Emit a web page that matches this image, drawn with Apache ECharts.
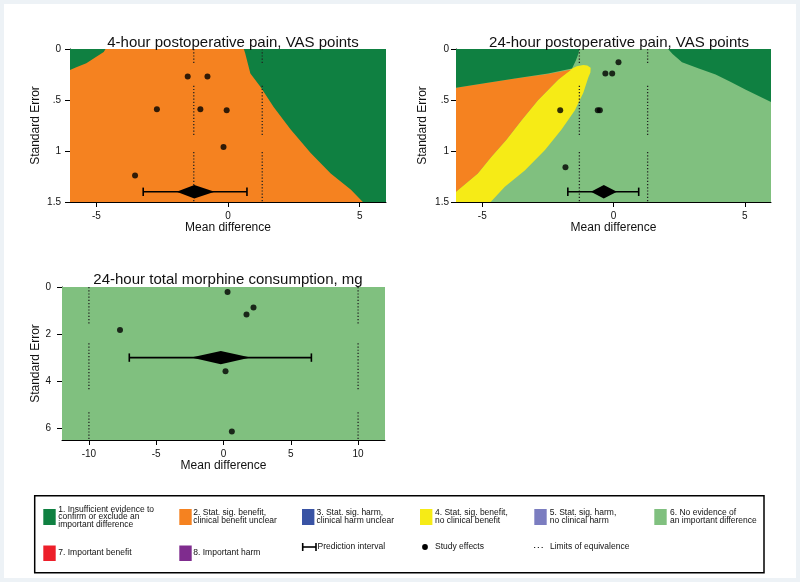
<!DOCTYPE html>
<html>
<head>
<meta charset="utf-8">
<script src="https://cdn.jsdelivr.net/npm/echarts@6/dist/echarts.min.js"></script>
<style>
html,body{margin:0;padding:0;background:#fff;}
#chart{width:800px;height:582px;}
</style>
</head>
<body>
<div id="chart"></div>
<script>
// ---------- data ----------
const painXTicks = [-5, 0, 5];
const painYTicks = [0, 0.5, 1, 1.5];
const painYTickLabels = ['0', '.5', '1', '1.5'];
const morphXTicks = [-10, -5, 0, 5, 10];
const morphYTicks = [0, 2, 4, 6];
const morphYTickLabels = ['0', '2', '4', '6'];

const painXRange = [-6, 6];
const painYRange = [0, 1.5];
const morphXRange = [-12, 12];
const morphYRange = [0, 6.5];

const titles = ['4-hour postoperative pain, VAS points', '24-hour postoperative pain, VAS points', '24-hour total morphine consumption, mg'];

// study effects [mean difference, standard error]
const pain4Studies = [[-1.53, 0.27], [-0.78, 0.27], [-2.70, 0.59], [-1.05, 0.59], [-0.05, 0.60], [-0.17, 0.96], [-3.53, 1.24]];
const pain24Studies = [[0.19, 0.13], [-0.31, 0.24], [-0.05, 0.24], [-2.03, 0.60], [-0.60, 0.60], [-0.52, 0.60], [-1.83, 1.16]];
const morphStudies = [[0.30, 0.21], [2.23, 0.87], [1.71, 1.17], [-7.69, 1.83], [0.15, 3.58], [0.62, 6.14]];

// pooled estimate: [estimate, y position, CI low, CI high, prediction low, prediction high]
const pain4Pooled = [-1.28, 1.40, -1.95, -0.51, -3.22, 0.72];
const pain24Pooled = [-0.37, 1.40, -0.86, 0.13, -1.74, 0.96];
const morphPooled = [-0.20, 3.00, -2.40, 2.00, -7.00, 6.53];

// limits of equivalence and the visible spans of the dotted lines
const painEquivalence = [-1.3, 1.3];
const morphEquivalence = [-10, 10];
const painDotSpans = [[0, 0.14], [0.36, 0.845], [1.01, 1.5]];
const morphDotSpans = [[0, 1.61], [2.39, 4.39], [5.32, 6.5]];

// region boundaries [mean difference, standard error]
const pain4Full = [[-6, 0], [6, 0], [6, 1.5], [-6, 1.5]];
const pain4InsuffLeft = [[-6, 0], [-4.65, 0], [-4.72, 0.03], [-5.0, 0.075], [-5.38, 0.14], [-5.76, 0.18], [-6, 0.205]];
const pain4InsuffRight = [[0.6, 0], [6, 0], [6, 1.5], [5.12, 1.5], [4.67, 1.38], [3.9, 1.22], [3.14, 1.02], [2.38, 0.79], [1.74, 0.57], [1.23, 0.37], [0.85, 0.24], [0.72, 0.11], [0.65, 0.04]];

const pain24Full = [[-6, 0], [6, 0], [6, 1.5], [-6, 1.5]];
const pain24Yellow = [[-1.62, 0.195], [-1.4, 0.17], [-1.15, 0.158], [-1.0, 0.162], [-0.87, 0.185], [-0.88, 0.23], [-0.96, 0.28], [-1.15, 0.43], [-1.47, 0.60], [-1.98, 0.79], [-2.61, 0.99], [-3.38, 1.19], [-4.14, 1.35], [-4.68, 1.5], [-6, 1.5], [-6, 1.40], [-5.17, 1.22], [-4.66, 1.06], [-4.08, 0.89], [-3.51, 0.70], [-2.87, 0.50], [-2.10, 0.30]];
const pain24Orange = [[-6, 0.38], [-5.04, 0.34], [-3.76, 0.29], [-2.49, 0.245], [-1.6, 0.2], [-2.10, 0.30], [-2.87, 0.50], [-3.51, 0.70], [-4.08, 0.89], [-4.66, 1.06], [-5.17, 1.22], [-6, 1.40]];
const pain24InsuffLeft = [[-6, 0], [-1.3, 0], [-1.34, 0.05], [-1.43, 0.11], [-1.58, 0.19], [-2.49, 0.24], [-3.76, 0.29], [-5.04, 0.34], [-6, 0.38]];
const pain24InsuffRight = [[2.08, 0], [6, 0], [6, 0.52], [5.04, 0.40], [4.45, 0.32], [3.89, 0.25], [3.25, 0.19], [2.61, 0.13], [2.25, 0.05]];

const morphFull = [[-12, 0], [12, 0], [12, 6.5], [-12, 6.5]];

// ---------- styles ----------
const FONT = 'Liberation Sans, Arial, sans-serif';
const C_INSUFF = '#0f8041';
const C_BEN_UNCLEAR = '#f58220';
const C_HARM_UNCLEAR = '#3953a4';
const C_BEN_NOCLIN = '#f6eb16';
const C_HARM_NOCLIN = '#7b7dc0';
const C_NOEVID = '#80c07f';
const C_IMP_BEN = '#ed1f2a';
const C_IMP_HARM = '#7f2c8e';

const grids = [
  {left: 70, top: 49, width: 316, height: 153},
  {left: 456, top: 49, width: 315, height: 153},
  {left: 62, top: 287, width: 323, height: 153}
];

function xAxis(gi, range, ticks, nameGap, margin) {
  return {
    gridIndex: gi, type: 'value', min: range[0], max: range[1],
    axisLine: {show: true, onZero: false, lineStyle: {color: '#000', width: 1}},
    axisTick: {show: true, length: 5, customValues: ticks, lineStyle: {color: '#000'}},
    axisLabel: {customValues: ticks, fontSize: 10, color: '#111', margin: margin, fontFamily: FONT},
    splitLine: {show: false},
    name: 'Mean difference', nameLocation: 'middle', nameGap: nameGap,
    nameTextStyle: {fontSize: 12, color: '#111', fontFamily: FONT}
  };
}
function yAxis(gi, range, ticks, labels, nameGap, margin) {
  return {
    gridIndex: gi, type: 'value', inverse: true, min: range[0], max: range[1],
    axisLine: {show: true, onZero: false, lineStyle: {color: '#000', width: 1}},
    axisTick: {show: true, length: 5, customValues: ticks, lineStyle: {color: '#000'}},
    axisLabel: {customValues: ticks, fontSize: 10, color: '#111', margin: margin, fontFamily: FONT,
      formatter: v => { const i = ticks.indexOf(v); return i >= 0 ? labels[i] : String(v); }},
    splitLine: {show: false},
    name: 'Standard Error', nameLocation: 'middle', nameGap: nameGap,
    nameTextStyle: {fontSize: 12, color: '#111', fontFamily: FONT}
  };
}

function regionSeries(gi, regions) {
  return {
    type: 'custom', xAxisIndex: gi, yAxisIndex: gi, silent: true, clip: true, z: 1,
    data: regions.map((r, i) => [r.pts[0][0], r.pts[0][1], i]),
    encode: {x: 0, y: 1},
    renderItem: (params, api) => {
      const r = regions[params.dataIndex];
      return {type: 'polygon', shape: {points: r.pts.map(p => api.coord(p))}, style: {fill: r.color}};
    }
  };
}
function equivSeries(gi, limits, spans) {
  const data = [];
  limits.forEach(x => spans.forEach(s => data.push([x, s[0], s[1]])));
  return {
    type: 'custom', xAxisIndex: gi, yAxisIndex: gi, silent: true, z: 3,
    data: data, encode: {x: 0, y: [1, 2]},
    renderItem: (params, api) => {
      const a = api.coord([api.value(0), api.value(1)]);
      const b = api.coord([api.value(0), api.value(2)]);
      return {type: 'line', shape: {x1: a[0], y1: a[1], x2: b[0], y2: b[1]},
        style: {stroke: '#222', lineWidth: 1.3, lineDash: [1.2, 2]}};
    }
  };
}
function pooledSeries(gi, pooled) {
  return {
    type: 'custom', xAxisIndex: gi, yAxisIndex: gi, silent: true, z: 4,
    data: [pooled], encode: {x: [0, 2, 3, 4, 5], y: 1},
    renderItem: (params, api) => {
      const y = api.value(1);
      const c = api.coord([api.value(0), y]);
      const cL = api.coord([api.value(2), y]);
      const cH = api.coord([api.value(3), y]);
      const pL = api.coord([api.value(4), y]);
      const pH = api.coord([api.value(5), y]);
      const h = 6.7, cap = 4.2;
      const ls = {stroke: '#000', lineWidth: 1.6};
      return {type: 'group', children: [
        {type: 'line', shape: {x1: pL[0], y1: c[1], x2: pH[0], y2: c[1]}, style: ls},
        {type: 'line', shape: {x1: pL[0], y1: c[1] - cap, x2: pL[0], y2: c[1] + cap}, style: ls},
        {type: 'line', shape: {x1: pH[0], y1: c[1] - cap, x2: pH[0], y2: c[1] + cap}, style: ls},
        {type: 'polygon', shape: {points: [[cL[0], c[1]], [c[0], c[1] - h], [cH[0], c[1]], [c[0], c[1] + h]]}, style: {fill: '#000'}}
      ]};
    }
  };
}
function studySeries(gi, pts) {
  return {type: 'scatter', xAxisIndex: gi, yAxisIndex: gi, data: pts, symbol: 'circle', symbolSize: 6,
    itemStyle: {color: '#000'}, z: 5, silent: true};
}

// ---------- legend (graphic) ----------
const legendItems = [
  {color: C_INSUFF, text: '1. Insufficient evidence to\nconfirm or exclude an\nimportant difference', sx: 43.3, tx: 58.3, row: 0},
  {color: C_BEN_UNCLEAR, text: '2. Stat. sig. benefit,\nclinical benefit unclear', sx: 179.3, tx: 193.3, row: 0},
  {color: C_HARM_UNCLEAR, text: '3. Stat. sig. harm,\nclinical harm unclear', sx: 302, tx: 316.5, row: 0},
  {color: C_BEN_NOCLIN, text: '4. Stat. sig. benefit,\nno clinical benefit', sx: 420, tx: 435, row: 0},
  {color: C_HARM_NOCLIN, text: '5. Stat. sig. harm,\nno clinical harm', sx: 534.3, tx: 549.7, row: 0},
  {color: C_NOEVID, text: '6. No evidence of\nan important difference', sx: 654.3, tx: 670, row: 0},
  {color: C_IMP_BEN, text: '7. Important benefit', sx: 43.3, tx: 58.3, row: 1},
  {color: C_IMP_HARM, text: '8. Important harm', sx: 179.3, tx: 193.3, row: 1}
];
const legendText = (x, y, text) => ({type: 'text', x: x, y: y, silent: true,
  style: {text: text, fontSize: 8.5, fontFamily: FONT, fill: '#111', lineHeight: 7.8, verticalAlign: 'middle', align: 'left'}});
const graphics = [
  {type: 'rect', shape: {x: 0, y: 0, width: 800, height: 582}, style: {fill: 'none', stroke: '#edf2f6', lineWidth: 8}, silent: true},
  {type: 'rect', shape: {x: 34.7, y: 495.7, width: 729.3, height: 77}, style: {fill: '#fff', stroke: '#000', lineWidth: 1.5}, silent: true, z: 10}
];
legendItems.forEach(it => {
  const y0 = it.row === 0 ? 509 : 545.5;
  const h = it.row === 0 ? 16 : 15.5;
  graphics.push({type: 'rect', shape: {x: it.sx, y: y0, width: 12.4, height: h}, style: {fill: it.color}, silent: true, z: 11});
  graphics.push(Object.assign(legendText(it.tx, it.row === 0 ? 517 : 553, it.text), {z: 11}));
});
// prediction interval key
graphics.push({type: 'line', shape: {x1: 302.7, y1: 547, x2: 316, y2: 547}, style: {stroke: '#000', lineWidth: 1.6}, z: 11, silent: true});
graphics.push({type: 'line', shape: {x1: 302.7, y1: 543, x2: 302.7, y2: 551}, style: {stroke: '#000', lineWidth: 1.6}, z: 11, silent: true});
graphics.push({type: 'line', shape: {x1: 316, y1: 543, x2: 316, y2: 551}, style: {stroke: '#000', lineWidth: 1.6}, z: 11, silent: true});
graphics.push(Object.assign(legendText(317.5, 547, 'Prediction interval'), {z: 11}));
// study effects key
graphics.push({type: 'circle', shape: {cx: 425, cy: 547, r: 2.9}, style: {fill: '#000'}, z: 11, silent: true});
graphics.push(Object.assign(legendText(435, 547, 'Study effects'), {z: 11}));
// limits key
graphics.push({type: 'line', shape: {x1: 534, y1: 547.5, x2: 545, y2: 547.5}, style: {stroke: '#222', lineWidth: 1.2, lineDash: [1.2, 2.6]}, z: 11, silent: true});
graphics.push(Object.assign(legendText(550, 547, 'Limits of equivalence'), {z: 11}));

// ---------- option ----------
const option = {
  backgroundColor: '#ffffff',
  animation: false,
  textStyle: {fontFamily: FONT},
  title: [
    {text: titles[0], left: 228, top: 30, textAlign: 'center', textStyle: {fontSize: 15, fontWeight: 'normal', color: '#111', fontFamily: FONT}},
    {text: titles[1], left: 614, top: 30, textAlign: 'center', textStyle: {fontSize: 15, fontWeight: 'normal', color: '#111', fontFamily: FONT}},
    {text: titles[2], left: 223, top: 267, textAlign: 'center', textStyle: {fontSize: 15, fontWeight: 'normal', color: '#111', fontFamily: FONT}}
  ],
  grid: grids,
  xAxis: [
    xAxis(0, painXRange, painXTicks, 20, 9),
    xAxis(1, painXRange, painXTicks, 20, 9),
    xAxis(2, morphXRange, morphXTicks, 18, 9)
  ],
  yAxis: [
    yAxis(0, painYRange, painYTicks, painYTickLabels, 28, 9),
    yAxis(1, painYRange, painYTicks, painYTickLabels, 27, 7),
    yAxis(2, morphYRange, morphYTicks, morphYTickLabels, 20, 11)
  ],
  series: [
    regionSeries(0, [
      {pts: pain4Full, color: C_BEN_UNCLEAR},
      {pts: pain4InsuffLeft, color: C_INSUFF},
      {pts: pain4InsuffRight, color: C_INSUFF}
    ]),
    regionSeries(1, [
      {pts: pain24Full, color: C_NOEVID},
      {pts: pain24Yellow, color: C_BEN_NOCLIN},
      {pts: pain24Orange, color: C_BEN_UNCLEAR},
      {pts: pain24InsuffLeft, color: C_INSUFF},
      {pts: pain24InsuffRight, color: C_INSUFF}
    ]),
    regionSeries(2, [
      {pts: morphFull, color: C_NOEVID}
    ]),
    equivSeries(0, painEquivalence, painDotSpans),
    equivSeries(1, painEquivalence, painDotSpans),
    equivSeries(2, morphEquivalence, morphDotSpans),
    pooledSeries(0, pain4Pooled),
    pooledSeries(1, pain24Pooled),
    pooledSeries(2, morphPooled),
    studySeries(0, pain4Studies),
    studySeries(1, pain24Studies),
    studySeries(2, morphStudies)
  ],
  graphic: graphics
};

const chart = echarts.init(document.getElementById('chart'), null, {renderer: 'canvas'});
chart.setOption(option);
</script>
</body>
</html>
